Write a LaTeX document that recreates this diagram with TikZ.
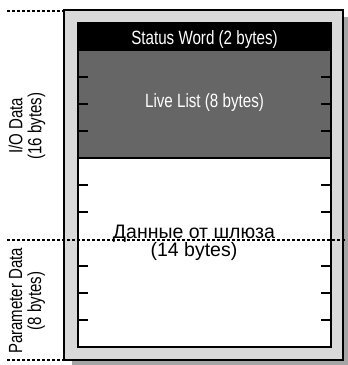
\documentclass[tikz,border=0pt]{standalone}
\usepackage{fontspec}
\setmainfont{Liberation Sans}
\newfontfamily\narrowfont{Liberation Sans}[FakeStretch=0.79]

\definecolor{framegray}{RGB}{217,217,217}
\definecolor{shadowgray}{RGB}{165,165,165}
\definecolor{listgray}{RGB}{102,102,102}

\begin{document}
\begin{tikzpicture}[x=1pt,y=-1pt,
  tickmark/.style={line width=2.2pt},
  boundary/.style={line width=1.3pt, dash pattern=on 3pt off 2pt},
  fieldtext/.style={font=\narrowfont\fontsize{19.2}{20}\selectfont, anchor=base, inner sep=0pt},
  bodytext/.style={font=\fontsize{19.5}{18.5}\selectfont, align=center, anchor=base, inner sep=0pt},
  sidetext/.style={font=\narrowfont\fontsize{19}{19}\selectfont, rotate=90, align=center, inner sep=0pt}]
\useasboundingbox (0,0) rectangle (348,365);

% drop shadow and outer frame
\fill[shadowgray] (72,17) rectangle (348,365);
\draw[line width=1.5pt, fill=framegray] (64,10) rectangle (343,360);

% memory block: white body, status word band, live list area
\fill[white] (78,23) rectangle (331,347);
\fill[black] (78,23) rectangle (331,51);
\fill[listgray] (78,51) rectangle (331,158);
\draw[line width=2pt] (78,158) -- (331,158);
\draw[line width=2pt] (78,23) rectangle (331,347);

% byte ticks (every 2 bytes)
\foreach \ty in {77,104,131,185,212,266,293,320} {
  \draw[tickmark] (78,\ty) -- (88,\ty);
  \draw[tickmark] (321,\ty) -- (331,\ty);
}

% region boundaries
\coordinate (topL) at (7,11);
\coordinate (topR) at (64,11);
\coordinate (midL) at (7,240);
\coordinate (midR) at (345,240);
\coordinate (botL) at (7,360);
\coordinate (botR) at (64,360);
\draw[boundary] (topL) -- (topR);
\draw[boundary] (midL) -- (midR);
\draw[boundary] (botL) -- (botR);

% field labels
\node[fieldtext, text=white] (status) at (204.5,44) {Status Word (2 bytes)};
\node[fieldtext, text=white] (live) at (204.5,107) {Live List (8 bytes)};
\node[bodytext] (gw) at (194,256.5) {Данные от шлюза\\(14 bytes)};

% side labels
\node[sidetext] (io) at (27,126) {I/O Data\\(16 bytes)};
\node[sidetext] (param) at (27,301) {Parameter Data\\(8 bytes)};
\end{tikzpicture}
\end{document}
